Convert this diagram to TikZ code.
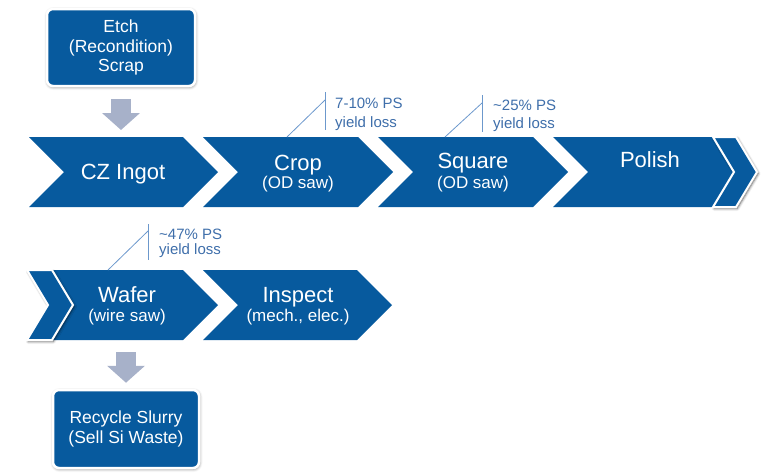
\documentclass[tikz,border=0pt]{standalone}
\usepackage{fontspec}
\setmainfont{Liberation Sans}
\usetikzlibrary{shadows.blur,arrows.meta}

\definecolor{flowblue}{HTML}{075A9E}
\definecolor{flowgray}{HTML}{A7B1C9}
\definecolor{notetext}{HTML}{3E6EAA}
\definecolor{noteline}{HTML}{6C98CC}

\tikzset{
  stage/.style={fill=flowblue},
  endcap/.style={fill=flowblue, draw=white, line width=2pt, line join=miter,
    blur shadow={shadow xshift=1.2pt, shadow yshift=-1.5pt, shadow blur radius=2.5pt, shadow opacity=65}},
  sidebox/.style={fill=flowblue, draw=white, line width=2.5pt, rounded corners=6pt,
    text=white, align=center, inner sep=0pt,
    font=\fontsize{17.5}{19.5}\selectfont,
    blur shadow={shadow xshift=0.5pt, shadow yshift=-1pt, shadow blur radius=3pt, shadow opacity=50}},
  title/.style={text=white, inner sep=0pt, anchor=base, font=\fontsize{22}{26}\selectfont},
  subtitle/.style={text=white, inner sep=0pt, anchor=base, font=\fontsize{17}{20}\selectfont},
  note/.style={text=notetext, inner sep=0pt, anchor=base west, font=\fontsize{15}{18}\selectfont},
  noteleader/.style={draw=noteline, line width=0.8pt},
  blockarrow/.style={draw=flowgray, line width=20pt,
    -{Triangle[width=37pt,length=17pt]}},
}

\begin{document}
\begin{tikzpicture}[x=1pt,y=-1pt]
\useasboundingbox (0,0) rectangle (762,472);

% side boxes
\node[sidebox, minimum width=148pt, minimum height=77pt] (etch) at (121,47.5)
  {Etch\\(Recondition)\\Scrap};
\node[sidebox, minimum width=146pt, minimum height=78pt] (recycle) at (126,429)
  {Recycle Slurry\\(Sell Si Waste)};

% first row of stages
\path[stage] (29,137) -- (183,137) -- (218,172) -- (183,207) -- (29,207) -- (64,172) -- cycle;
\path[stage] (203,137) -- (358,137) -- (393,172) -- (358,207) -- (203,207) -- (238,172) -- cycle;
\path[stage] (378,137) -- (533,137) -- (568,172) -- (533,207) -- (378,207) -- (413,172) -- cycle;
\path[stage] (553,137) -- (713,137) -- (734,172) -- (713,207) -- (553,207) -- (588,172) -- cycle;
\path[endcap] (713,137) -- (736,137) -- (757,172) -- (736,207) -- (713,207) -- (734,172) -- cycle;

% second row of stages
\path[stage] (52,270) -- (183,270) -- (218,305) -- (183,340) -- (52,340) -- (73,305) -- cycle;
\path[stage] (203,270) -- (357,270) -- (392,305) -- (357,340) -- (203,340) -- (238,305) -- cycle;
\path[endcap] (27,270) -- (52,270) -- (73,305) -- (52,340) -- (27,340) -- (48,305) -- cycle;

% stage labels
\node[title] (cz) at (123,179) {CZ Ingot};
\node[title] (crop) at (298,170) {Crop};
\node[subtitle] (cropsaw) at (298,188) {(OD saw)};
\node[title] (square) at (473,168) {Square};
\node[subtitle] (squaresaw) at (473,188) {(OD saw)};
\node[title] (polish) at (650,167) {Polish};
\node[title] (wafer) at (127,302) {Wafer};
\node[subtitle] (wafersaw) at (127,321) {(wire saw)};
\node[title] (inspect) at (298,302) {Inspect};
\node[subtitle] (inspecthow) at (298,321) {(mech., elec.)};

% anchor points on the stage edges
\coordinate (cz-top) at (122,137);
\coordinate (wafer-bottom) at (126,340);
\coordinate (crop-edge) at (287,137);
\coordinate (square-edge) at (445,137);
\coordinate (wafer-edge) at (108,270);

% block arrows
\draw[blockarrow, shorten <=12pt, shorten >=7pt] (etch.south) -- (etch.south |- cz-top);
\draw[blockarrow, shorten <=12pt, shorten >=6pt] (wafer-bottom) -- (recycle.north);

% yield loss callouts
\coordinate (n1a) at (325,92);  \coordinate (n1b) at (325,130); \coordinate (n1k) at (325,100);
\coordinate (n2a) at (482,95);  \coordinate (n2b) at (482,132); \coordinate (n2k) at (482,103);
\coordinate (n3a) at (148,224); \coordinate (n3b) at (148,260); \coordinate (n3k) at (148,231);
\draw[noteleader] (n1a) -- (n1b);
\draw[noteleader] (n1k) -- (crop-edge);
\draw[noteleader] (n2a) -- (n2b);
\draw[noteleader] (n2k) -- (square-edge);
\draw[noteleader] (n3a) -- (n3b);
\draw[noteleader] (n3k) -- (wafer-edge);

\node[note] (loss1) at (335,108) {7-10\% PS};
\node[note] (loss1b) at (335,127) {yield loss};
\node[note] (loss2) at (493,110) {\textasciitilde25\% PS};
\node[note] (loss2b) at (493,128) {yield loss};
\node[note] (loss3) at (159,239) {\textasciitilde47\% PS};
\node[note] (loss3b) at (159,254) {yield loss};
\end{tikzpicture}
\end{document}
